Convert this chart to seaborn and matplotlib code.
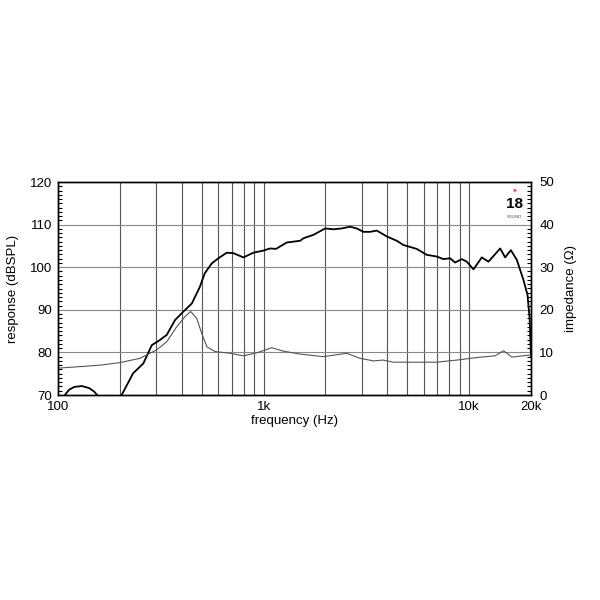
import numpy as np
import pandas as pd
import seaborn as sns
import matplotlib.pyplot as plt
from matplotlib.ticker import FixedLocator, MultipleLocator, NullLocator

# response curve (dB SPL)
resp_freq = [100, 108, 113, 120, 131, 142, 150, 155, 175, 204, 232, 260, 286, 313,
             338, 371, 400, 448, 490, 518, 560, 603, 662, 713, 798, 892, 998, 1076,
             1150, 1297, 1506, 1564, 1750, 1993, 2190, 2400, 2636, 2840, 3060, 3300,
             3555, 3985, 4450, 4790, 5560, 6220, 6960, 7500, 8085, 8550, 9210,
             9740, 10500, 11530, 12420, 14160, 14970, 15960, 17070, 18380, 19230,
             19700, 20000]
resp_db = [64, 70, 71.2, 71.9, 72.1, 71.6, 70.8, 70, 64, 70, 75.1, 77.4, 81.7, 82.9,
           84.1, 87.6, 89.2, 91.5, 95.4, 98.6, 100.9, 102.1, 103.4, 103.3, 102.3,
           103.4, 103.9, 104.4, 104.3, 105.8, 106.2, 106.8, 107.6, 109.1, 108.9,
           109.1, 109.5, 109.1, 108.3, 108.3, 108.6, 107.2, 106.2, 105.2, 104.3,
           102.9, 102.5, 101.9, 102.1, 101.1, 101.9, 101.3, 99.5, 102.3, 101.3,
           104.4, 102.3, 104.0, 101.7, 97.0, 93.5, 88.0, 79.0]

# impedance curve (ohm)
imp_freq = [100, 160, 200, 250, 302, 338, 378, 415, 442, 473, 500, 530, 581, 687,
            798, 927, 1096, 1248, 1506, 1955, 2540, 2950, 3430, 3800, 4290, 6960,
            8720, 10900, 13390, 14700, 16130, 20000]
imp_ohm = [6.3, 7.0, 7.6, 8.6, 10.6, 12.5, 16.0, 18.4, 19.6, 18.0, 14.5, 11.3, 10.2,
           9.8, 9.2, 9.9, 11.1, 10.3, 9.6, 9.0, 9.8, 8.6, 8.0, 8.2, 7.7, 7.7, 8.2,
           8.8, 9.2, 10.4, 8.9, 9.4]

x_ticks = [100, 1000, 10000, 20000]
x_labels = ["100", "1k", "10k", "20k"]
x_grid = [200, 300, 400, 500, 600, 700, 800, 900, 1000,
          2000, 3000, 4000, 5000, 6000, 7000, 8000, 9000, 10000]

resp = pd.DataFrame({"freq": resp_freq, "db": resp_db})
imp = pd.DataFrame({"freq": imp_freq, "ohm": imp_ohm})

sns.set_style("white")
plt.rcParams["font.family"] = ["Liberation Sans", "DejaVu Sans"]
plt.rcParams["text.color"] = "black"
plt.rcParams["axes.labelcolor"] = "black"
plt.rcParams["xtick.color"] = "black"
plt.rcParams["ytick.color"] = "black"

fig = plt.figure(figsize=(6, 6), dpi=100)
ax = fig.add_axes([58 / 600, 1 - 395 / 600, (531 - 58) / 600, (395 - 182) / 600])
ax.set_xscale("log")

for xg in x_grid:
    ax.axvline(xg, color="#555555", lw=0.8, zorder=0)
for yg in range(80, 120, 10):
    ax.axhline(yg, color="#888888", lw=0.8, zorder=0)

ax2 = ax.twinx()
sns.lineplot(data=imp, x="freq", y="ohm", ax=ax2, color="#555555", lw=0.8)
sns.lineplot(data=resp, x="freq", y="db", ax=ax, color="black", lw=1.3, zorder=3)

ax.set_xlim(100, 20000)
ax.set_ylim(70, 120)
ax2.set_ylim(0, 50)

ax.xaxis.set_major_locator(FixedLocator(x_ticks))
ax.xaxis.set_minor_locator(NullLocator())
ax.set_xticklabels(x_labels)
ax.tick_params(axis="x", length=0, labelsize=9.5, pad=4)

ax.yaxis.set_major_locator(MultipleLocator(10))
ax.yaxis.set_minor_locator(MultipleLocator(1))
ax.tick_params(axis="y", which="major", length=0, labelsize=9.5, pad=4)
ax.tick_params(axis="y", which="minor", direction="in", length=3, width=0.8, left=True)

ax2.yaxis.set_major_locator(MultipleLocator(10))
ax2.yaxis.set_minor_locator(MultipleLocator(1))
ax2.tick_params(axis="y", which="major", length=0, labelsize=9.5, pad=6)
ax2.tick_params(axis="y", which="minor", direction="in", length=3, width=0.8, right=True)

ax.set_xlabel("frequency (Hz)", fontsize=9.5, labelpad=2)
ax.set_ylabel("response (dBSPL)", fontsize=9.5, labelpad=8)
ax2.set_ylabel("impedance (\u03a9)", fontsize=9.5, labelpad=8)

for a in (ax, ax2):
    for s in a.spines.values():
        s.set_color("black")
        s.set_linewidth(1.0)

# small maker logo in the corner
ax.text(0.965, 0.955, "\u2736", transform=ax.transAxes, color="#d02020",
        fontsize=5, ha="center", va="center")
ax.text(0.965, 0.895, "18", transform=ax.transAxes, color="black",
        fontsize=11, fontweight="bold", ha="center", va="center")
ax.text(0.965, 0.835, "SOUND", transform=ax.transAxes, color="#444444",
        fontsize=3, ha="center", va="center")

fig.savefig("out.png", dpi=100, facecolor="white")
